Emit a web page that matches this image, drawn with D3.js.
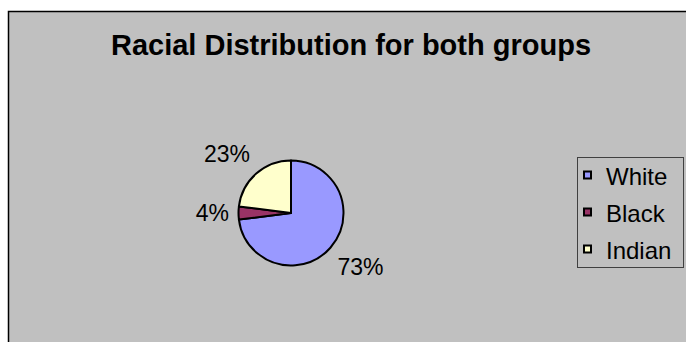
<!DOCTYPE html>
<html>
<head>
<meta charset="utf-8">
<script src="https://cdn.jsdelivr.net/npm/d3@7"></script>
<style>
  html, body { margin: 0; padding: 0; background: #fff; }
  svg { display: block; font-family: "Liberation Sans", Arial, sans-serif; }
</style>
</head>
<body>
<script>
const title = "Racial Distribution for both groups";
const categories = ["White", "Black", "Indian"];
const values = [73, 4, 23];
const colors = ["#9999FF", "#993366", "#FFFFCC"];

const width = 686, height = 342;
const cx = 291, cy = 213, radius = 52.5;

const svg = d3.select("body")
  .append("svg")
  .attr("width", width)
  .attr("height", height);

// chart area
svg.append("rect")
  .attr("x", 8.5)
  .attr("y", 11.5)
  .attr("width", width)
  .attr("height", height)
  .attr("fill", "#C0C0C0")
  .attr("stroke", "#000")
  .attr("stroke-width", 1.5);

svg.append("text")
  .attr("x", 351)
  .attr("y", 55)
  .attr("text-anchor", "middle")
  .attr("font-size", 29)
  .attr("font-weight", "bold")
  .text(title);

const data = categories.map((c, i) => ({ name: c, value: values[i], color: colors[i] }));

const pie = d3.pie()
  .value(d => d.value)
  .sort(null);

const arc = d3.arc()
  .innerRadius(0)
  .outerRadius(radius);

const g = svg.append("g")
  .attr("transform", `translate(${cx},${cy})`);

const arcs = pie(data);

g.selectAll("path")
  .data(arcs)
  .enter()
  .append("path")
  .attr("d", arc)
  .attr("fill", d => d.data.color)
  .attr("stroke", "#000")
  .attr("stroke-width", 2)
  .attr("stroke-linejoin", "round");

// labels outside the slices
const total = d3.sum(values);
const labelR = 62, fs = 23;
const sgn = v => Math.abs(v) < 1e-6 ? 0 : Math.sign(v);

g.selectAll("text.lbl")
  .data(arcs)
  .enter()
  .append("text")
  .attr("class", "lbl")
  .attr("font-size", fs)
  .attr("text-anchor", "middle")
  .text(d => Math.round(d.data.value / total * 100) + "%")
  .each(function(d) {
    const a = (d.startAngle + d.endAngle) / 2;
    const s = Math.sin(a), c = Math.cos(a);
    const w = this.getComputedTextLength();
    const x = labelR * s + sgn(s) * w / 2;
    const y = -labelR * c - sgn(c) * 13;
    d3.select(this).attr("x", x).attr("y", y + fs * 0.35);
  });

// legend
const legend = svg.append("g")
  .attr("transform", "translate(577,157)");

legend.append("rect")
  .attr("x", 0.5)
  .attr("y", 0.5)
  .attr("width", 106)
  .attr("height", 110)
  .attr("fill", "#C0C0C0")
  .attr("stroke", "#404040")
  .attr("stroke-width", 1);

const item = legend.selectAll("g.item")
  .data(data)
  .enter()
  .append("g")
  .attr("class", "item")
  .attr("transform", (d, i) => `translate(0,${14 + i * 37})`);

item.append("rect")
  .attr("x", 7)
  .attr("y", 0.5)
  .attr("width", 7)
  .attr("height", 7)
  .attr("fill", d => d.color)
  .attr("stroke", "#000")
  .attr("stroke-width", 2);

item.append("text")
  .attr("x", 29)
  .attr("y", 13.5)
  .attr("font-size", 24)
  .text(d => d.name);
</script>
</body>
</html>
